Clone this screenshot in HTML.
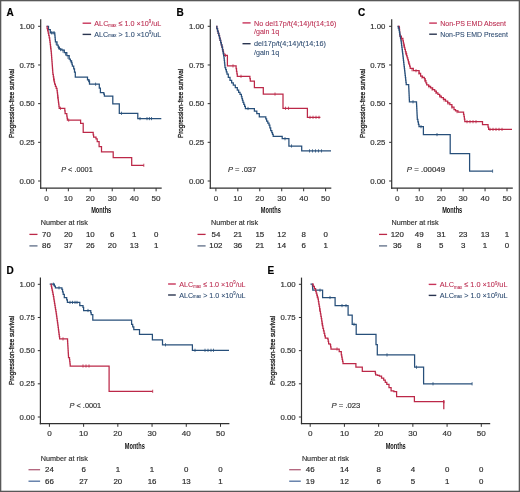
<!DOCTYPE html>
<html><head><meta charset="utf-8"><title>Kaplan-Meier curves</title>
<style>
html,body{margin:0;padding:0;background:#fff;}
svg{display:block;filter:blur(0.3px);}
text{font-family:"Liberation Sans", sans-serif;}
</style></head>
<body>
<svg width="520" height="492" viewBox="0 0 520 492">
<rect x="0" y="0" width="520" height="492" fill="#fff"/>
<text x="6.40" y="15.60" font-size="10" text-anchor="start" fill="#000" font-weight="bold" stroke="#000" stroke-width="0.18">A</text>
<line x1="40.70" y1="19.20" x2="40.70" y2="188.70" stroke="#303030" stroke-width="1.2"/>
<line x1="40.10" y1="188.10" x2="161.70" y2="188.10" stroke="#303030" stroke-width="1.2"/>
<line x1="38.10" y1="181.00" x2="40.70" y2="181.00" stroke="#303030" stroke-width="1.0"/>
<text x="34.70" y="183.65" font-size="7.8" text-anchor="end" fill="#333" font-weight="normal" stroke="#333" stroke-width="0.18">0.00</text>
<line x1="38.10" y1="142.32" x2="40.70" y2="142.32" stroke="#303030" stroke-width="1.0"/>
<text x="34.70" y="144.97" font-size="7.8" text-anchor="end" fill="#333" font-weight="normal" stroke="#333" stroke-width="0.18">0.25</text>
<line x1="38.10" y1="103.65" x2="40.70" y2="103.65" stroke="#303030" stroke-width="1.0"/>
<text x="34.70" y="106.30" font-size="7.8" text-anchor="end" fill="#333" font-weight="normal" stroke="#333" stroke-width="0.18">0.50</text>
<line x1="38.10" y1="64.98" x2="40.70" y2="64.98" stroke="#303030" stroke-width="1.0"/>
<text x="34.70" y="67.63" font-size="7.8" text-anchor="end" fill="#333" font-weight="normal" stroke="#333" stroke-width="0.18">0.75</text>
<line x1="38.10" y1="26.30" x2="40.70" y2="26.30" stroke="#303030" stroke-width="1.0"/>
<text x="34.70" y="28.95" font-size="7.8" text-anchor="end" fill="#333" font-weight="normal" stroke="#333" stroke-width="0.18">1.00</text>
<line x1="46.40" y1="188.10" x2="46.40" y2="191.30" stroke="#303030" stroke-width="1.0"/>
<text x="46.40" y="200.60" font-size="8.1" text-anchor="middle" fill="#333" font-weight="normal" stroke="#333" stroke-width="0.18">0</text>
<line x1="68.34" y1="188.10" x2="68.34" y2="191.30" stroke="#303030" stroke-width="1.0"/>
<text x="68.34" y="200.60" font-size="8.1" text-anchor="middle" fill="#333" font-weight="normal" stroke="#333" stroke-width="0.18">10</text>
<line x1="90.28" y1="188.10" x2="90.28" y2="191.30" stroke="#303030" stroke-width="1.0"/>
<text x="90.28" y="200.60" font-size="8.1" text-anchor="middle" fill="#333" font-weight="normal" stroke="#333" stroke-width="0.18">20</text>
<line x1="112.22" y1="188.10" x2="112.22" y2="191.30" stroke="#303030" stroke-width="1.0"/>
<text x="112.22" y="200.60" font-size="8.1" text-anchor="middle" fill="#333" font-weight="normal" stroke="#333" stroke-width="0.18">30</text>
<line x1="134.16" y1="188.10" x2="134.16" y2="191.30" stroke="#303030" stroke-width="1.0"/>
<text x="134.16" y="200.60" font-size="8.1" text-anchor="middle" fill="#333" font-weight="normal" stroke="#333" stroke-width="0.18">40</text>
<line x1="156.10" y1="188.10" x2="156.10" y2="191.30" stroke="#303030" stroke-width="1.0"/>
<text x="156.10" y="200.60" font-size="8.1" text-anchor="middle" fill="#333" font-weight="normal" stroke="#333" stroke-width="0.18">50</text>
<text x="101.20" y="213.10" font-size="9.0" text-anchor="middle" fill="#111" font-weight="bold" textLength="20.1" lengthAdjust="spacingAndGlyphs">Months</text>
<text transform="translate(13.50,103.40) rotate(-90)" x="0" y="0" font-size="7.9" text-anchor="middle" fill="#1a1a1a" stroke="#1a1a1a" stroke-width="0.3" textLength="69.0" lengthAdjust="spacingAndGlyphs">Progression-free survival</text>
<line x1="82.60" y1="23.20" x2="91.10" y2="23.20" stroke="#c8345a" stroke-width="1.4"/>
<line x1="82.60" y1="34.40" x2="91.10" y2="34.40" stroke="#2a3550" stroke-width="1.4"/>
<text x="94.30" y="25.70" font-size="7.7" text-anchor="start" fill="#bb2c50" font-weight="normal" stroke="#bb2c50" stroke-width="0.08" textLength="67.0" lengthAdjust="spacingAndGlyphs">ALC<tspan font-size="4.6" dy="1.6">max</tspan><tspan dy="-1.6"> ≤ 1.0 ×10</tspan><tspan font-size="4.6" dy="-2.4">9</tspan><tspan dy="2.4">/uL</tspan></text>
<text x="94.30" y="36.70" font-size="7.7" text-anchor="start" fill="#2c4a70" font-weight="normal" stroke="#2c4a70" stroke-width="0.08" textLength="67.0" lengthAdjust="spacingAndGlyphs">ALC<tspan font-size="4.6">max</tspan> &gt; 1.0 ×10<tspan font-size="4.6" dy="-2.4">9</tspan><tspan dy="2.4">/uL</tspan></text>
<polyline points="46.60,26.40 48.50,26.40 48.50,29.50 50.30,29.50 50.30,32.80 54.60,32.80 54.80,32.80 54.80,35.07 55.00,35.07 55.00,37.35 55.20,37.35 55.20,39.62 55.40,39.62 55.40,41.90 57.00,41.90 57.00,45.10 58.20,45.10 58.20,47.15 59.40,47.15 59.40,49.20 61.90,49.20 61.90,50.00 64.30,50.00 64.30,52.50 66.80,52.50 66.80,55.70 69.20,55.70 69.20,59.00 70.40,59.00 70.40,60.80 71.60,60.80 71.60,62.60 72.00,62.60 72.00,64.35 72.40,64.35 72.40,66.10 73.70,66.10 73.70,68.90 74.50,68.90 74.50,72.20 75.30,72.20 75.30,73.40 75.30,77.20 87.50,77.20 87.50,79.90 89.10,79.90 89.10,81.10 89.50,81.10 89.50,84.20 99.30,84.20 99.30,88.00 100.40,88.00 100.40,89.30 100.40,92.50 103.30,92.50 103.80,92.50 103.80,94.10 104.40,94.10 104.40,96.00 112.80,96.00 112.80,103.90 119.30,103.90 119.30,113.30 137.80,113.30 137.80,118.60 161.30,118.60" fill="none" stroke="#274f7a" stroke-width="1.25" stroke-linejoin="miter"/>
<polyline points="46.60,26.40 47.13,26.40 47.13,28.60 47.67,28.60 47.67,30.80 48.20,30.80 48.20,33.00 48.70,33.00 48.70,35.43 49.20,35.43 49.20,37.87 49.70,37.87 49.70,40.30 49.97,40.30 49.97,42.47 50.23,42.47 50.23,44.63 50.50,44.63 50.50,46.80 50.77,46.80 50.77,48.97 51.03,48.97 51.03,51.13 51.30,51.13 51.30,53.30 51.46,53.30 51.46,55.41 51.62,55.41 51.62,57.52 51.78,57.52 51.78,59.63 51.94,59.63 51.94,61.74 52.10,61.74 52.10,63.85 52.26,63.85 52.26,65.96 52.42,65.96 52.42,68.07 52.58,68.07 52.58,70.18 52.74,70.18 52.74,72.29 52.90,72.29 52.90,74.40 53.33,74.40 53.33,76.85 53.75,76.85 53.75,79.30 54.17,79.30 54.17,81.75 54.60,81.75 54.60,84.20 55.40,84.20 55.40,86.30 56.20,86.30 56.20,88.40 57.00,88.40 57.00,90.50 57.28,90.50 57.28,92.84 57.56,92.84 57.56,95.18 57.84,95.18 57.84,97.52 58.12,97.52 58.12,99.86 58.40,99.86 58.40,102.20 58.67,102.20 58.67,104.23 58.93,104.23 58.93,106.27 59.20,106.27 59.20,108.30 64.50,108.30 64.80,108.30 64.80,110.95 65.10,110.95 65.10,113.60 66.80,113.60 66.80,116.00 67.10,116.00 67.10,118.05 67.40,118.05 67.40,120.10 79.80,120.10 80.60,120.10 80.60,123.30 83.20,123.30 83.20,125.00 83.20,132.30 92.80,132.30 93.20,132.30 93.20,134.75 93.60,134.75 93.60,137.20 96.00,137.20 96.00,138.80 97.20,138.80 97.20,141.50 99.10,141.50 99.10,142.20 99.10,146.50 101.50,146.50 101.50,151.80 113.20,151.80 113.20,157.50 131.70,157.50 131.70,165.30 143.80,165.30" fill="none" stroke="#bc2848" stroke-width="1.25" stroke-linejoin="miter"/>
<line x1="51.50" y1="31.20" x2="51.50" y2="34.40" stroke="#274f7a" stroke-width="0.8"/>
<line x1="53.00" y1="31.20" x2="53.00" y2="34.40" stroke="#274f7a" stroke-width="0.8"/>
<line x1="54.20" y1="31.20" x2="54.20" y2="34.40" stroke="#274f7a" stroke-width="0.8"/>
<line x1="56.20" y1="41.90" x2="56.20" y2="45.10" stroke="#274f7a" stroke-width="0.8"/>
<line x1="58.50" y1="46.06" x2="58.50" y2="49.26" stroke="#274f7a" stroke-width="0.8"/>
<line x1="60.50" y1="47.95" x2="60.50" y2="51.15" stroke="#274f7a" stroke-width="0.8"/>
<line x1="63.00" y1="49.55" x2="63.00" y2="52.75" stroke="#274f7a" stroke-width="0.8"/>
<line x1="65.50" y1="52.44" x2="65.50" y2="55.64" stroke="#274f7a" stroke-width="0.8"/>
<line x1="68.00" y1="55.75" x2="68.00" y2="58.95" stroke="#274f7a" stroke-width="0.8"/>
<line x1="71.00" y1="60.10" x2="71.00" y2="63.30" stroke="#274f7a" stroke-width="0.8"/>
<line x1="95.60" y1="82.60" x2="95.60" y2="85.80" stroke="#274f7a" stroke-width="0.8"/>
<line x1="88.50" y1="79.05" x2="88.50" y2="82.25" stroke="#274f7a" stroke-width="0.8"/>
<line x1="121.50" y1="111.70" x2="121.50" y2="114.90" stroke="#274f7a" stroke-width="0.8"/>
<line x1="140.00" y1="117.00" x2="140.00" y2="120.20" stroke="#274f7a" stroke-width="0.8"/>
<line x1="147.00" y1="117.00" x2="147.00" y2="120.20" stroke="#274f7a" stroke-width="0.8"/>
<line x1="149.40" y1="117.00" x2="149.40" y2="120.20" stroke="#274f7a" stroke-width="0.8"/>
<line x1="151.50" y1="117.00" x2="151.50" y2="120.20" stroke="#274f7a" stroke-width="0.8"/>
<line x1="50.60" y1="46.01" x2="50.60" y2="49.21" stroke="#bc2848" stroke-width="0.8"/>
<line x1="53.80" y1="77.99" x2="53.80" y2="81.19" stroke="#bc2848" stroke-width="0.8"/>
<line x1="57.80" y1="95.59" x2="57.80" y2="98.79" stroke="#bc2848" stroke-width="0.8"/>
<line x1="60.50" y1="106.70" x2="60.50" y2="109.90" stroke="#bc2848" stroke-width="0.8"/>
<line x1="68.70" y1="118.50" x2="68.70" y2="121.70" stroke="#bc2848" stroke-width="0.8"/>
<line x1="143.80" y1="163.70" x2="143.80" y2="166.90" stroke="#bc2848" stroke-width="0.8"/>
<text x="61.20" y="172.20" font-size="7.9" fill="#333" stroke="#333" stroke-width="0.18" textLength="31.6" lengthAdjust="spacingAndGlyphs"><tspan font-style="italic">P</tspan> &lt; .0001</text>
<text x="40.80" y="224.90" font-size="7.7" text-anchor="start" fill="#333" font-weight="normal" stroke="#333" stroke-width="0.18" textLength="47.0" lengthAdjust="spacingAndGlyphs">Number at risk</text>
<line x1="29.40" y1="234.40" x2="37.50" y2="234.40" stroke="#bc2848" stroke-width="1.3"/>
<text x="46.40" y="236.90" font-size="7.9" text-anchor="middle" fill="#2a2a2a" font-weight="normal" stroke="#2a2a2a" stroke-width="0.18">70</text>
<text x="68.34" y="236.90" font-size="7.9" text-anchor="middle" fill="#2a2a2a" font-weight="normal" stroke="#2a2a2a" stroke-width="0.18">20</text>
<text x="90.28" y="236.90" font-size="7.9" text-anchor="middle" fill="#2a2a2a" font-weight="normal" stroke="#2a2a2a" stroke-width="0.18">10</text>
<text x="112.22" y="236.90" font-size="7.9" text-anchor="middle" fill="#2a2a2a" font-weight="normal" stroke="#2a2a2a" stroke-width="0.18">6</text>
<text x="134.16" y="236.90" font-size="7.9" text-anchor="middle" fill="#2a2a2a" font-weight="normal" stroke="#2a2a2a" stroke-width="0.18">1</text>
<text x="156.10" y="236.90" font-size="7.9" text-anchor="middle" fill="#2a2a2a" font-weight="normal" stroke="#2a2a2a" stroke-width="0.18">0</text>
<line x1="29.40" y1="245.90" x2="37.50" y2="245.90" stroke="#5d6c86" stroke-width="1.3"/>
<text x="46.40" y="248.20" font-size="7.9" text-anchor="middle" fill="#2a2a2a" font-weight="normal" stroke="#2a2a2a" stroke-width="0.18">86</text>
<text x="68.34" y="248.20" font-size="7.9" text-anchor="middle" fill="#2a2a2a" font-weight="normal" stroke="#2a2a2a" stroke-width="0.18">37</text>
<text x="90.28" y="248.20" font-size="7.9" text-anchor="middle" fill="#2a2a2a" font-weight="normal" stroke="#2a2a2a" stroke-width="0.18">26</text>
<text x="112.22" y="248.20" font-size="7.9" text-anchor="middle" fill="#2a2a2a" font-weight="normal" stroke="#2a2a2a" stroke-width="0.18">20</text>
<text x="134.16" y="248.20" font-size="7.9" text-anchor="middle" fill="#2a2a2a" font-weight="normal" stroke="#2a2a2a" stroke-width="0.18">13</text>
<text x="156.10" y="248.20" font-size="7.9" text-anchor="middle" fill="#2a2a2a" font-weight="normal" stroke="#2a2a2a" stroke-width="0.18">1</text>
<text x="176.40" y="15.60" font-size="10" text-anchor="start" fill="#000" font-weight="bold" stroke="#000" stroke-width="0.18">B</text>
<line x1="210.30" y1="19.20" x2="210.30" y2="188.70" stroke="#303030" stroke-width="1.2"/>
<line x1="209.70" y1="188.10" x2="331.30" y2="188.10" stroke="#303030" stroke-width="1.2"/>
<line x1="207.70" y1="181.00" x2="210.30" y2="181.00" stroke="#303030" stroke-width="1.0"/>
<text x="204.20" y="183.65" font-size="7.8" text-anchor="end" fill="#333" font-weight="normal" stroke="#333" stroke-width="0.18">0.00</text>
<line x1="207.70" y1="142.32" x2="210.30" y2="142.32" stroke="#303030" stroke-width="1.0"/>
<text x="204.20" y="144.97" font-size="7.8" text-anchor="end" fill="#333" font-weight="normal" stroke="#333" stroke-width="0.18">0.25</text>
<line x1="207.70" y1="103.65" x2="210.30" y2="103.65" stroke="#303030" stroke-width="1.0"/>
<text x="204.20" y="106.30" font-size="7.8" text-anchor="end" fill="#333" font-weight="normal" stroke="#333" stroke-width="0.18">0.50</text>
<line x1="207.70" y1="64.98" x2="210.30" y2="64.98" stroke="#303030" stroke-width="1.0"/>
<text x="204.20" y="67.63" font-size="7.8" text-anchor="end" fill="#333" font-weight="normal" stroke="#333" stroke-width="0.18">0.75</text>
<line x1="207.70" y1="26.30" x2="210.30" y2="26.30" stroke="#303030" stroke-width="1.0"/>
<text x="204.20" y="28.95" font-size="7.8" text-anchor="end" fill="#333" font-weight="normal" stroke="#333" stroke-width="0.18">1.00</text>
<line x1="215.90" y1="188.10" x2="215.90" y2="191.30" stroke="#303030" stroke-width="1.0"/>
<text x="215.90" y="200.60" font-size="8.1" text-anchor="middle" fill="#333" font-weight="normal" stroke="#333" stroke-width="0.18">0</text>
<line x1="237.84" y1="188.10" x2="237.84" y2="191.30" stroke="#303030" stroke-width="1.0"/>
<text x="237.84" y="200.60" font-size="8.1" text-anchor="middle" fill="#333" font-weight="normal" stroke="#333" stroke-width="0.18">10</text>
<line x1="259.78" y1="188.10" x2="259.78" y2="191.30" stroke="#303030" stroke-width="1.0"/>
<text x="259.78" y="200.60" font-size="8.1" text-anchor="middle" fill="#333" font-weight="normal" stroke="#333" stroke-width="0.18">20</text>
<line x1="281.72" y1="188.10" x2="281.72" y2="191.30" stroke="#303030" stroke-width="1.0"/>
<text x="281.72" y="200.60" font-size="8.1" text-anchor="middle" fill="#333" font-weight="normal" stroke="#333" stroke-width="0.18">30</text>
<line x1="303.66" y1="188.10" x2="303.66" y2="191.30" stroke="#303030" stroke-width="1.0"/>
<text x="303.66" y="200.60" font-size="8.1" text-anchor="middle" fill="#333" font-weight="normal" stroke="#333" stroke-width="0.18">40</text>
<line x1="325.60" y1="188.10" x2="325.60" y2="191.30" stroke="#303030" stroke-width="1.0"/>
<text x="325.60" y="200.60" font-size="8.1" text-anchor="middle" fill="#333" font-weight="normal" stroke="#333" stroke-width="0.18">50</text>
<text x="270.80" y="213.10" font-size="9.0" text-anchor="middle" fill="#111" font-weight="bold" textLength="20.1" lengthAdjust="spacingAndGlyphs">Months</text>
<text transform="translate(183.30,103.40) rotate(-90)" x="0" y="0" font-size="7.9" text-anchor="middle" fill="#1a1a1a" stroke="#1a1a1a" stroke-width="0.3" textLength="69.0" lengthAdjust="spacingAndGlyphs">Progression-free survival</text>
<line x1="242.50" y1="22.90" x2="250.60" y2="22.90" stroke="#c8345a" stroke-width="1.4"/>
<line x1="242.50" y1="43.70" x2="250.60" y2="43.70" stroke="#2a3550" stroke-width="1.4"/>
<text x="254.00" y="25.60" font-size="7.7" text-anchor="start" fill="#bb2c50" font-weight="normal" stroke="#bb2c50" stroke-width="0.08" textLength="82.3" lengthAdjust="spacingAndGlyphs">No del17p/t(4;14)/t(14;16)</text>
<text x="254.00" y="33.90" font-size="7.7" text-anchor="start" fill="#bb2c50" font-weight="normal" stroke="#bb2c50" stroke-width="0.08" textLength="25.2" lengthAdjust="spacingAndGlyphs">/gain 1q</text>
<text x="254.00" y="46.40" font-size="7.7" text-anchor="start" fill="#2c4a70" font-weight="normal" stroke="#2c4a70" stroke-width="0.08" textLength="71.9" lengthAdjust="spacingAndGlyphs">del17p/t(4;14)/t(14;16)</text>
<text x="254.00" y="54.50" font-size="7.7" text-anchor="start" fill="#2c4a70" font-weight="normal" stroke="#2c4a70" stroke-width="0.08" textLength="25.2" lengthAdjust="spacingAndGlyphs">/gain 1q</text>
<polyline points="216.20,26.40 216.86,26.40 216.86,28.72 217.52,28.72 217.52,31.04 218.18,31.04 218.18,33.36 218.84,33.36 218.84,35.68 219.50,35.68 219.50,38.00 220.10,38.00 220.10,40.30 220.70,40.30 220.70,42.60 221.30,42.60 221.30,44.90 221.90,44.90 221.90,47.20 222.50,47.20 222.50,49.50 223.00,49.50 223.00,51.43 223.50,51.43 223.50,53.37 224.00,53.37 224.00,55.30 227.40,55.30 227.40,65.90 235.70,65.90 236.10,65.90 236.10,68.65 236.50,68.65 236.50,71.40 236.90,71.40 236.90,73.85 237.30,73.85 237.30,76.30 249.50,76.30 249.90,76.30 249.90,78.70 250.30,78.70 250.30,81.10 254.40,81.10 254.40,87.60 263.30,87.60 263.30,94.10 283.00,94.10 283.00,108.30 307.40,108.30 307.40,117.30 320.40,117.30" fill="none" stroke="#bc2848" stroke-width="1.25" stroke-linejoin="miter"/>
<polyline points="216.20,26.40 216.86,26.40 216.86,28.72 217.52,28.72 217.52,31.04 218.18,31.04 218.18,33.36 218.84,33.36 218.84,35.68 219.50,35.68 219.50,38.00 220.10,38.00 220.10,40.30 220.70,40.30 220.70,42.60 221.30,42.60 221.30,44.90 221.90,44.90 221.90,47.20 222.50,47.20 222.50,49.50 222.88,49.50 222.88,51.62 223.25,51.62 223.25,53.75 223.62,53.75 223.62,55.88 224.00,55.88 224.00,58.00 224.25,58.00 224.25,60.38 224.50,60.38 224.50,62.75 224.75,62.75 224.75,65.12 225.00,65.12 225.00,67.50 225.67,67.50 225.67,69.67 226.33,69.67 226.33,71.83 227.00,71.83 227.00,74.00 228.30,74.00 228.30,77.30 230.00,77.30 230.00,80.30 231.65,80.30 231.65,82.75 233.30,82.75 233.30,85.20 235.30,85.20 235.30,87.65 237.30,87.65 237.30,90.10 238.67,90.10 238.67,92.27 240.03,92.27 240.03,94.43 241.40,94.43 241.40,96.60 241.93,96.60 241.93,98.50 242.47,98.50 242.47,100.40 243.00,100.40 243.00,102.30 243.80,102.30 243.80,104.37 244.60,104.37 244.60,106.43 245.40,106.43 245.40,108.50 252.80,108.50 254.40,108.50 254.40,111.20 256.80,111.20 256.80,113.70 259.30,113.70 259.30,116.90 265.00,116.90 265.80,116.90 265.80,118.95 266.60,118.95 266.60,121.00 267.80,121.00 267.80,123.00 269.00,123.00 269.00,125.00 269.85,125.00 269.85,127.75 270.70,127.75 270.70,130.50 271.80,130.50 271.80,132.50 272.50,132.50 272.50,134.40 273.20,134.40 273.20,136.30 282.20,136.30 282.20,138.70 288.90,138.70 288.90,146.00 301.70,146.00 301.70,150.90 331.00,150.90" fill="none" stroke="#274f7a" stroke-width="1.25" stroke-linejoin="miter"/>
<line x1="225.50" y1="53.70" x2="225.50" y2="56.90" stroke="#bc2848" stroke-width="0.8"/>
<line x1="233.00" y1="64.30" x2="233.00" y2="67.50" stroke="#bc2848" stroke-width="0.8"/>
<line x1="241.00" y1="74.70" x2="241.00" y2="77.90" stroke="#bc2848" stroke-width="0.8"/>
<line x1="275.00" y1="92.50" x2="275.00" y2="95.70" stroke="#bc2848" stroke-width="0.8"/>
<line x1="285.50" y1="106.70" x2="285.50" y2="109.90" stroke="#bc2848" stroke-width="0.8"/>
<line x1="288.50" y1="106.70" x2="288.50" y2="109.90" stroke="#bc2848" stroke-width="0.8"/>
<line x1="310.00" y1="115.70" x2="310.00" y2="118.90" stroke="#bc2848" stroke-width="0.8"/>
<line x1="313.00" y1="115.70" x2="313.00" y2="118.90" stroke="#bc2848" stroke-width="0.8"/>
<line x1="316.00" y1="115.70" x2="316.00" y2="118.90" stroke="#bc2848" stroke-width="0.8"/>
<line x1="319.00" y1="115.70" x2="319.00" y2="118.90" stroke="#bc2848" stroke-width="0.8"/>
<line x1="248.00" y1="106.90" x2="248.00" y2="110.10" stroke="#274f7a" stroke-width="0.8"/>
<line x1="285.00" y1="137.10" x2="285.00" y2="140.30" stroke="#274f7a" stroke-width="0.8"/>
<line x1="291.50" y1="144.40" x2="291.50" y2="147.60" stroke="#274f7a" stroke-width="0.8"/>
<line x1="309.50" y1="149.30" x2="309.50" y2="152.50" stroke="#274f7a" stroke-width="0.8"/>
<line x1="312.50" y1="149.30" x2="312.50" y2="152.50" stroke="#274f7a" stroke-width="0.8"/>
<line x1="315.50" y1="149.30" x2="315.50" y2="152.50" stroke="#274f7a" stroke-width="0.8"/>
<line x1="318.50" y1="149.30" x2="318.50" y2="152.50" stroke="#274f7a" stroke-width="0.8"/>
<line x1="321.50" y1="149.30" x2="321.50" y2="152.50" stroke="#274f7a" stroke-width="0.8"/>
<text x="227.90" y="172.20" font-size="7.9" fill="#333" stroke="#333" stroke-width="0.18" textLength="28.4" lengthAdjust="spacingAndGlyphs"><tspan font-style="italic">P</tspan> = .037</text>
<text x="211.10" y="224.90" font-size="7.7" text-anchor="start" fill="#333" font-weight="normal" stroke="#333" stroke-width="0.18" textLength="47.0" lengthAdjust="spacingAndGlyphs">Number at risk</text>
<line x1="197.50" y1="234.40" x2="205.60" y2="234.40" stroke="#bc2848" stroke-width="1.3"/>
<text x="215.90" y="236.90" font-size="7.9" text-anchor="middle" fill="#2a2a2a" font-weight="normal" stroke="#2a2a2a" stroke-width="0.18">54</text>
<text x="237.84" y="236.90" font-size="7.9" text-anchor="middle" fill="#2a2a2a" font-weight="normal" stroke="#2a2a2a" stroke-width="0.18">21</text>
<text x="259.78" y="236.90" font-size="7.9" text-anchor="middle" fill="#2a2a2a" font-weight="normal" stroke="#2a2a2a" stroke-width="0.18">15</text>
<text x="281.72" y="236.90" font-size="7.9" text-anchor="middle" fill="#2a2a2a" font-weight="normal" stroke="#2a2a2a" stroke-width="0.18">12</text>
<text x="303.66" y="236.90" font-size="7.9" text-anchor="middle" fill="#2a2a2a" font-weight="normal" stroke="#2a2a2a" stroke-width="0.18">8</text>
<text x="325.60" y="236.90" font-size="7.9" text-anchor="middle" fill="#2a2a2a" font-weight="normal" stroke="#2a2a2a" stroke-width="0.18">0</text>
<line x1="197.50" y1="245.90" x2="205.60" y2="245.90" stroke="#5d6c86" stroke-width="1.3"/>
<text x="215.90" y="248.20" font-size="7.9" text-anchor="middle" fill="#2a2a2a" font-weight="normal" stroke="#2a2a2a" stroke-width="0.18">102</text>
<text x="237.84" y="248.20" font-size="7.9" text-anchor="middle" fill="#2a2a2a" font-weight="normal" stroke="#2a2a2a" stroke-width="0.18">36</text>
<text x="259.78" y="248.20" font-size="7.9" text-anchor="middle" fill="#2a2a2a" font-weight="normal" stroke="#2a2a2a" stroke-width="0.18">21</text>
<text x="281.72" y="248.20" font-size="7.9" text-anchor="middle" fill="#2a2a2a" font-weight="normal" stroke="#2a2a2a" stroke-width="0.18">14</text>
<text x="303.66" y="248.20" font-size="7.9" text-anchor="middle" fill="#2a2a2a" font-weight="normal" stroke="#2a2a2a" stroke-width="0.18">6</text>
<text x="325.60" y="248.20" font-size="7.9" text-anchor="middle" fill="#2a2a2a" font-weight="normal" stroke="#2a2a2a" stroke-width="0.18">1</text>
<text x="358.00" y="15.60" font-size="10" text-anchor="start" fill="#000" font-weight="bold" stroke="#000" stroke-width="0.18">C</text>
<line x1="391.70" y1="19.20" x2="391.70" y2="188.70" stroke="#303030" stroke-width="1.2"/>
<line x1="391.10" y1="188.10" x2="512.80" y2="188.10" stroke="#303030" stroke-width="1.2"/>
<line x1="389.10" y1="181.00" x2="391.70" y2="181.00" stroke="#303030" stroke-width="1.0"/>
<text x="385.40" y="183.65" font-size="7.8" text-anchor="end" fill="#333" font-weight="normal" stroke="#333" stroke-width="0.18">0.00</text>
<line x1="389.10" y1="142.32" x2="391.70" y2="142.32" stroke="#303030" stroke-width="1.0"/>
<text x="385.40" y="144.97" font-size="7.8" text-anchor="end" fill="#333" font-weight="normal" stroke="#333" stroke-width="0.18">0.25</text>
<line x1="389.10" y1="103.65" x2="391.70" y2="103.65" stroke="#303030" stroke-width="1.0"/>
<text x="385.40" y="106.30" font-size="7.8" text-anchor="end" fill="#333" font-weight="normal" stroke="#333" stroke-width="0.18">0.50</text>
<line x1="389.10" y1="64.98" x2="391.70" y2="64.98" stroke="#303030" stroke-width="1.0"/>
<text x="385.40" y="67.63" font-size="7.8" text-anchor="end" fill="#333" font-weight="normal" stroke="#333" stroke-width="0.18">0.75</text>
<line x1="389.10" y1="26.30" x2="391.70" y2="26.30" stroke="#303030" stroke-width="1.0"/>
<text x="385.40" y="28.95" font-size="7.8" text-anchor="end" fill="#333" font-weight="normal" stroke="#333" stroke-width="0.18">1.00</text>
<line x1="397.30" y1="188.10" x2="397.30" y2="191.30" stroke="#303030" stroke-width="1.0"/>
<text x="397.30" y="200.60" font-size="8.1" text-anchor="middle" fill="#333" font-weight="normal" stroke="#333" stroke-width="0.18">0</text>
<line x1="419.24" y1="188.10" x2="419.24" y2="191.30" stroke="#303030" stroke-width="1.0"/>
<text x="419.24" y="200.60" font-size="8.1" text-anchor="middle" fill="#333" font-weight="normal" stroke="#333" stroke-width="0.18">10</text>
<line x1="441.18" y1="188.10" x2="441.18" y2="191.30" stroke="#303030" stroke-width="1.0"/>
<text x="441.18" y="200.60" font-size="8.1" text-anchor="middle" fill="#333" font-weight="normal" stroke="#333" stroke-width="0.18">20</text>
<line x1="463.12" y1="188.10" x2="463.12" y2="191.30" stroke="#303030" stroke-width="1.0"/>
<text x="463.12" y="200.60" font-size="8.1" text-anchor="middle" fill="#333" font-weight="normal" stroke="#333" stroke-width="0.18">30</text>
<line x1="485.06" y1="188.10" x2="485.06" y2="191.30" stroke="#303030" stroke-width="1.0"/>
<text x="485.06" y="200.60" font-size="8.1" text-anchor="middle" fill="#333" font-weight="normal" stroke="#333" stroke-width="0.18">40</text>
<line x1="507.00" y1="188.10" x2="507.00" y2="191.30" stroke="#303030" stroke-width="1.0"/>
<text x="507.00" y="200.60" font-size="8.1" text-anchor="middle" fill="#333" font-weight="normal" stroke="#333" stroke-width="0.18">50</text>
<text x="452.20" y="213.10" font-size="9.0" text-anchor="middle" fill="#111" font-weight="bold" textLength="20.1" lengthAdjust="spacingAndGlyphs">Months</text>
<text transform="translate(364.70,103.40) rotate(-90)" x="0" y="0" font-size="7.9" text-anchor="middle" fill="#1a1a1a" stroke="#1a1a1a" stroke-width="0.3" textLength="69.0" lengthAdjust="spacingAndGlyphs">Progression-free survival</text>
<line x1="429.20" y1="23.10" x2="436.90" y2="23.10" stroke="#c8345a" stroke-width="1.4"/>
<line x1="429.20" y1="34.20" x2="436.90" y2="34.20" stroke="#2a3550" stroke-width="1.4"/>
<text x="440.20" y="25.80" font-size="7.7" text-anchor="start" fill="#bb2c50" font-weight="normal" stroke="#bb2c50" stroke-width="0.08" textLength="65.8" lengthAdjust="spacingAndGlyphs">Non-PS EMD Absent</text>
<text x="440.20" y="36.90" font-size="7.7" text-anchor="start" fill="#2c4a70" font-weight="normal" stroke="#2c4a70" stroke-width="0.08" textLength="67.7" lengthAdjust="spacingAndGlyphs">Non-PS EMD Present</text>
<polyline points="397.60,26.40 399.30,26.40 399.30,27.50 399.45,27.50 399.45,29.62 399.60,29.62 399.60,31.75 399.75,31.75 399.75,33.88 399.90,33.88 399.90,36.00 401.40,36.00 401.40,38.45 402.90,38.45 402.90,40.90 403.38,40.90 403.38,43.02 403.85,43.02 403.85,45.15 404.32,45.15 404.32,47.27 404.80,47.27 404.80,49.40 405.40,49.40 405.40,51.52 406.00,51.52 406.00,53.65 406.60,53.65 406.60,55.77 407.20,55.77 407.20,57.90 407.80,57.90 407.80,59.93 408.40,59.93 408.40,61.97 409.00,61.97 409.00,64.00 409.60,64.00 409.60,66.15 410.20,66.15 410.20,68.30 413.30,68.30 413.30,70.70 417.60,70.70 419.10,70.70 419.10,73.45 420.60,73.45 420.60,76.20 422.45,76.20 422.45,77.45 424.30,77.45 424.30,78.70 425.10,78.70 425.10,80.73 425.90,80.73 425.90,82.77 426.70,82.77 426.70,84.80 428.65,84.80 428.65,86.35 430.60,86.35 430.60,87.90 432.65,87.90 432.65,89.50 434.70,89.50 434.70,91.10 436.30,91.10 436.30,92.75 437.90,92.75 437.90,94.40 439.60,94.40 439.60,96.00 441.30,96.00 441.30,97.60 443.40,97.60 443.40,99.40 445.50,99.40 445.50,101.20 447.65,101.20 447.65,102.95 449.80,102.95 449.80,104.70 451.90,104.70 451.90,107.20 454.00,107.20 454.00,109.70 455.50,109.70 455.50,110.80 458.00,110.80 458.00,112.10 463.10,112.10 463.55,112.10 463.55,114.30 464.00,114.30 464.00,116.50 464.40,116.50 464.40,119.10 464.80,119.10 464.80,121.70 482.50,121.70 482.50,124.70 487.50,124.70 488.05,124.70 488.05,127.05 488.60,127.05 488.60,129.40 512.00,129.40" fill="none" stroke="#bc2848" stroke-width="1.25" stroke-linejoin="miter"/>
<polyline points="397.60,26.40 398.30,26.40 398.30,28.20 399.00,28.20 399.00,30.00 399.38,30.00 399.38,32.18 399.77,32.18 399.77,34.37 400.15,34.37 400.15,36.55 400.53,36.55 400.53,38.73 400.92,38.73 400.92,40.92 401.30,40.92 401.30,43.10 401.57,43.10 401.57,45.27 401.83,45.27 401.83,47.43 402.10,47.43 402.10,49.60 402.37,49.60 402.37,51.77 402.63,51.77 402.63,53.93 402.90,53.93 402.90,56.10 403.14,56.10 403.14,58.20 403.39,58.20 403.39,60.30 403.63,60.30 403.63,62.40 403.87,62.40 403.87,64.50 404.11,64.50 404.11,66.60 404.36,66.60 404.36,68.70 404.60,68.70 404.60,70.80 404.87,70.80 404.87,73.10 405.13,73.10 405.13,75.40 405.40,75.40 405.40,77.70 405.67,77.70 405.67,80.00 405.93,80.00 405.93,82.30 406.20,82.30 406.20,84.60 408.60,84.60 408.70,84.60 408.70,86.75 408.80,86.75 408.80,88.90 408.90,88.90 408.90,91.05 409.00,91.05 409.00,93.20 409.10,93.20 409.10,95.35 409.20,95.35 409.20,97.50 409.30,97.50 409.30,99.65 409.40,99.65 409.40,101.80 416.40,101.80 416.51,101.80 416.51,104.00 416.62,104.00 416.62,106.20 416.74,106.20 416.74,108.40 416.85,108.40 416.85,110.60 416.96,110.60 416.96,112.80 417.07,112.80 417.07,115.00 417.19,115.00 417.19,117.20 417.30,117.20 417.30,119.40 417.87,119.40 417.87,121.83 418.43,121.83 418.43,124.27 419.00,124.27 419.00,126.70 423.40,126.70 423.40,134.60 450.20,134.60 450.20,153.50 469.60,153.50 469.60,171.10 492.60,171.10" fill="none" stroke="#274f7a" stroke-width="1.25" stroke-linejoin="miter"/>
<line x1="401.50" y1="37.01" x2="401.50" y2="40.21" stroke="#bc2848" stroke-width="0.8"/>
<line x1="404.00" y1="44.22" x2="404.00" y2="47.42" stroke="#bc2848" stroke-width="0.8"/>
<line x1="406.00" y1="52.05" x2="406.00" y2="55.25" stroke="#bc2848" stroke-width="0.8"/>
<line x1="408.50" y1="60.71" x2="408.50" y2="63.91" stroke="#bc2848" stroke-width="0.8"/>
<line x1="412.00" y1="68.09" x2="412.00" y2="71.29" stroke="#bc2848" stroke-width="0.8"/>
<line x1="416.00" y1="69.10" x2="416.00" y2="72.30" stroke="#bc2848" stroke-width="0.8"/>
<line x1="419.00" y1="71.67" x2="419.00" y2="74.87" stroke="#bc2848" stroke-width="0.8"/>
<line x1="422.00" y1="75.55" x2="422.00" y2="78.75" stroke="#bc2848" stroke-width="0.8"/>
<line x1="425.00" y1="78.88" x2="425.00" y2="82.08" stroke="#bc2848" stroke-width="0.8"/>
<line x1="429.00" y1="85.03" x2="429.00" y2="88.23" stroke="#bc2848" stroke-width="0.8"/>
<line x1="432.00" y1="87.39" x2="432.00" y2="90.59" stroke="#bc2848" stroke-width="0.8"/>
<line x1="436.00" y1="90.84" x2="436.00" y2="94.04" stroke="#bc2848" stroke-width="0.8"/>
<line x1="440.00" y1="94.78" x2="440.00" y2="97.98" stroke="#bc2848" stroke-width="0.8"/>
<line x1="444.00" y1="98.31" x2="444.00" y2="101.51" stroke="#bc2848" stroke-width="0.8"/>
<line x1="448.00" y1="101.63" x2="448.00" y2="104.83" stroke="#bc2848" stroke-width="0.8"/>
<line x1="452.00" y1="105.72" x2="452.00" y2="108.92" stroke="#bc2848" stroke-width="0.8"/>
<line x1="457.00" y1="109.98" x2="457.00" y2="113.18" stroke="#bc2848" stroke-width="0.8"/>
<line x1="467.00" y1="120.10" x2="467.00" y2="123.30" stroke="#bc2848" stroke-width="0.8"/>
<line x1="470.00" y1="120.10" x2="470.00" y2="123.30" stroke="#bc2848" stroke-width="0.8"/>
<line x1="473.00" y1="120.10" x2="473.00" y2="123.30" stroke="#bc2848" stroke-width="0.8"/>
<line x1="476.00" y1="120.10" x2="476.00" y2="123.30" stroke="#bc2848" stroke-width="0.8"/>
<line x1="490.00" y1="127.80" x2="490.00" y2="131.00" stroke="#bc2848" stroke-width="0.8"/>
<line x1="493.00" y1="127.80" x2="493.00" y2="131.00" stroke="#bc2848" stroke-width="0.8"/>
<line x1="496.00" y1="127.80" x2="496.00" y2="131.00" stroke="#bc2848" stroke-width="0.8"/>
<line x1="499.00" y1="127.80" x2="499.00" y2="131.00" stroke="#bc2848" stroke-width="0.8"/>
<line x1="502.00" y1="127.80" x2="502.00" y2="131.00" stroke="#bc2848" stroke-width="0.8"/>
<line x1="413.00" y1="100.20" x2="413.00" y2="103.40" stroke="#274f7a" stroke-width="0.8"/>
<line x1="421.00" y1="125.10" x2="421.00" y2="128.30" stroke="#274f7a" stroke-width="0.8"/>
<line x1="437.00" y1="133.00" x2="437.00" y2="136.20" stroke="#274f7a" stroke-width="0.8"/>
<line x1="492.60" y1="169.50" x2="492.60" y2="172.70" stroke="#274f7a" stroke-width="0.8"/>
<text x="406.80" y="172.30" font-size="7.9" fill="#333" stroke="#333" stroke-width="0.18" textLength="38.3" lengthAdjust="spacingAndGlyphs"><tspan font-style="italic">P</tspan> = .00049</text>
<text x="391.50" y="224.90" font-size="7.7" text-anchor="start" fill="#333" font-weight="normal" stroke="#333" stroke-width="0.18" textLength="47.0" lengthAdjust="spacingAndGlyphs">Number at risk</text>
<line x1="379.00" y1="234.40" x2="387.10" y2="234.40" stroke="#bc2848" stroke-width="1.3"/>
<text x="397.30" y="236.90" font-size="7.9" text-anchor="middle" fill="#2a2a2a" font-weight="normal" stroke="#2a2a2a" stroke-width="0.18">120</text>
<text x="419.24" y="236.90" font-size="7.9" text-anchor="middle" fill="#2a2a2a" font-weight="normal" stroke="#2a2a2a" stroke-width="0.18">49</text>
<text x="441.18" y="236.90" font-size="7.9" text-anchor="middle" fill="#2a2a2a" font-weight="normal" stroke="#2a2a2a" stroke-width="0.18">31</text>
<text x="463.12" y="236.90" font-size="7.9" text-anchor="middle" fill="#2a2a2a" font-weight="normal" stroke="#2a2a2a" stroke-width="0.18">23</text>
<text x="485.06" y="236.90" font-size="7.9" text-anchor="middle" fill="#2a2a2a" font-weight="normal" stroke="#2a2a2a" stroke-width="0.18">13</text>
<text x="507.00" y="236.90" font-size="7.9" text-anchor="middle" fill="#2a2a2a" font-weight="normal" stroke="#2a2a2a" stroke-width="0.18">1</text>
<line x1="379.00" y1="245.90" x2="387.10" y2="245.90" stroke="#5d6c86" stroke-width="1.3"/>
<text x="397.30" y="248.20" font-size="7.9" text-anchor="middle" fill="#2a2a2a" font-weight="normal" stroke="#2a2a2a" stroke-width="0.18">36</text>
<text x="419.24" y="248.20" font-size="7.9" text-anchor="middle" fill="#2a2a2a" font-weight="normal" stroke="#2a2a2a" stroke-width="0.18">8</text>
<text x="441.18" y="248.20" font-size="7.9" text-anchor="middle" fill="#2a2a2a" font-weight="normal" stroke="#2a2a2a" stroke-width="0.18">5</text>
<text x="463.12" y="248.20" font-size="7.9" text-anchor="middle" fill="#2a2a2a" font-weight="normal" stroke="#2a2a2a" stroke-width="0.18">3</text>
<text x="485.06" y="248.20" font-size="7.9" text-anchor="middle" fill="#2a2a2a" font-weight="normal" stroke="#2a2a2a" stroke-width="0.18">1</text>
<text x="507.00" y="248.20" font-size="7.9" text-anchor="middle" fill="#2a2a2a" font-weight="normal" stroke="#2a2a2a" stroke-width="0.18">0</text>
<text x="6.40" y="274.20" font-size="10" text-anchor="start" fill="#000" font-weight="bold" stroke="#000" stroke-width="0.18">D</text>
<line x1="40.40" y1="277.60" x2="40.40" y2="424.20" stroke="#303030" stroke-width="1.2"/>
<line x1="39.80" y1="423.60" x2="229.40" y2="423.60" stroke="#303030" stroke-width="1.2"/>
<line x1="37.80" y1="417.00" x2="40.40" y2="417.00" stroke="#303030" stroke-width="1.0"/>
<text x="34.80" y="419.65" font-size="7.8" text-anchor="end" fill="#333" font-weight="normal" stroke="#333" stroke-width="0.18">0.00</text>
<line x1="37.80" y1="383.82" x2="40.40" y2="383.82" stroke="#303030" stroke-width="1.0"/>
<text x="34.80" y="386.47" font-size="7.8" text-anchor="end" fill="#333" font-weight="normal" stroke="#333" stroke-width="0.18">0.25</text>
<line x1="37.80" y1="350.65" x2="40.40" y2="350.65" stroke="#303030" stroke-width="1.0"/>
<text x="34.80" y="353.30" font-size="7.8" text-anchor="end" fill="#333" font-weight="normal" stroke="#333" stroke-width="0.18">0.50</text>
<line x1="37.80" y1="317.48" x2="40.40" y2="317.48" stroke="#303030" stroke-width="1.0"/>
<text x="34.80" y="320.12" font-size="7.8" text-anchor="end" fill="#333" font-weight="normal" stroke="#333" stroke-width="0.18">0.75</text>
<line x1="37.80" y1="284.30" x2="40.40" y2="284.30" stroke="#303030" stroke-width="1.0"/>
<text x="34.80" y="286.95" font-size="7.8" text-anchor="end" fill="#333" font-weight="normal" stroke="#333" stroke-width="0.18">1.00</text>
<line x1="49.40" y1="423.60" x2="49.40" y2="426.80" stroke="#303030" stroke-width="1.0"/>
<text x="49.40" y="436.40" font-size="8.1" text-anchor="middle" fill="#333" font-weight="normal" stroke="#333" stroke-width="0.18">0</text>
<line x1="83.62" y1="423.60" x2="83.62" y2="426.80" stroke="#303030" stroke-width="1.0"/>
<text x="83.62" y="436.40" font-size="8.1" text-anchor="middle" fill="#333" font-weight="normal" stroke="#333" stroke-width="0.18">10</text>
<line x1="117.84" y1="423.60" x2="117.84" y2="426.80" stroke="#303030" stroke-width="1.0"/>
<text x="117.84" y="436.40" font-size="8.1" text-anchor="middle" fill="#333" font-weight="normal" stroke="#333" stroke-width="0.18">20</text>
<line x1="152.06" y1="423.60" x2="152.06" y2="426.80" stroke="#303030" stroke-width="1.0"/>
<text x="152.06" y="436.40" font-size="8.1" text-anchor="middle" fill="#333" font-weight="normal" stroke="#333" stroke-width="0.18">30</text>
<line x1="186.28" y1="423.60" x2="186.28" y2="426.80" stroke="#303030" stroke-width="1.0"/>
<text x="186.28" y="436.40" font-size="8.1" text-anchor="middle" fill="#333" font-weight="normal" stroke="#333" stroke-width="0.18">40</text>
<line x1="220.50" y1="423.60" x2="220.50" y2="426.80" stroke="#303030" stroke-width="1.0"/>
<text x="220.50" y="436.40" font-size="8.1" text-anchor="middle" fill="#333" font-weight="normal" stroke="#333" stroke-width="0.18">50</text>
<text x="134.80" y="448.80" font-size="9.0" text-anchor="middle" fill="#111" font-weight="bold" textLength="20.1" lengthAdjust="spacingAndGlyphs">Months</text>
<text transform="translate(13.80,350.40) rotate(-90)" x="0" y="0" font-size="7.9" text-anchor="middle" fill="#1a1a1a" stroke="#1a1a1a" stroke-width="0.3" textLength="69.0" lengthAdjust="spacingAndGlyphs">Progression-free survival</text>
<line x1="168.10" y1="284.00" x2="175.80" y2="284.00" stroke="#c8345a" stroke-width="1.4"/>
<line x1="168.10" y1="295.00" x2="175.80" y2="295.00" stroke="#2a3550" stroke-width="1.4"/>
<text x="179.20" y="286.60" font-size="7.7" text-anchor="start" fill="#bb2c50" font-weight="normal" stroke="#bb2c50" stroke-width="0.08" textLength="66.4" lengthAdjust="spacingAndGlyphs">ALC<tspan font-size="4.6" dy="1.6">max</tspan><tspan dy="-1.6"> ≤ 1.0 ×10</tspan><tspan font-size="4.6" dy="-2.4">9</tspan><tspan dy="2.4">/uL</tspan></text>
<text x="179.20" y="297.50" font-size="7.7" text-anchor="start" fill="#2c4a70" font-weight="normal" stroke="#2c4a70" stroke-width="0.08" textLength="66.4" lengthAdjust="spacingAndGlyphs">ALC<tspan font-size="4.6">max</tspan> &gt; 1.0 ×10<tspan font-size="4.6" dy="-2.4">9</tspan><tspan dy="2.4">/uL</tspan></text>
<polyline points="49.70,284.20 53.40,284.20 54.40,284.20 54.40,286.00 55.40,286.00 55.40,287.80 61.10,287.80 61.90,287.80 61.90,289.40 62.55,289.40 62.55,291.85 63.20,291.85 63.20,294.30 64.30,294.30 64.30,297.50 66.00,297.50 66.70,297.50 66.70,299.95 67.40,299.95 67.40,302.40 79.00,302.40 79.80,302.40 79.80,305.60 83.00,305.60 83.00,307.30 83.60,307.30 83.60,310.50 90.30,310.50 90.75,310.50 90.75,312.55 91.20,312.55 91.20,314.60 92.80,314.60 92.80,316.20 92.80,320.20 131.60,320.20 131.60,324.30 132.70,324.30 132.70,326.95 133.80,326.95 133.80,329.60 139.50,329.60 139.50,334.30 152.40,334.30 152.40,339.80 162.50,339.80 162.50,344.80 192.40,344.80 192.40,350.30 229.00,350.30" fill="none" stroke="#274f7a" stroke-width="1.25" stroke-linejoin="miter"/>
<polyline points="50.80,284.20 51.22,284.20 51.22,286.15 51.65,286.15 51.65,288.10 52.08,288.10 52.08,290.05 52.50,290.05 52.50,292.00 52.93,292.00 52.93,294.37 53.37,294.37 53.37,296.73 53.80,296.73 53.80,299.10 54.14,299.10 54.14,301.20 54.49,301.20 54.49,303.30 54.83,303.30 54.83,305.40 55.17,305.40 55.17,307.50 55.51,307.50 55.51,309.60 55.86,309.60 55.86,311.70 56.20,311.70 56.20,313.80 56.52,313.80 56.52,316.08 56.84,316.08 56.84,318.36 57.16,318.36 57.16,320.64 57.48,320.64 57.48,322.92 57.80,322.92 57.80,325.20 58.10,325.20 58.10,327.48 58.40,327.48 58.40,329.77 58.70,329.77 58.70,332.05 59.00,332.05 59.00,334.33 59.30,334.33 59.30,336.62 59.60,336.62 59.60,338.90 67.40,338.90 67.54,338.90 67.54,341.22 67.68,341.22 67.68,343.55 67.81,343.55 67.81,345.88 67.95,345.88 67.95,348.20 68.09,348.20 68.09,350.52 68.22,350.52 68.22,352.85 68.36,352.85 68.36,355.18 68.50,355.18 68.50,357.50 69.50,357.50 69.50,359.60 69.73,359.60 69.73,361.73 69.97,361.73 69.97,363.87 70.20,363.87 70.20,366.00 109.10,366.00 109.10,391.30 152.70,391.30" fill="none" stroke="#bc2848" stroke-width="1.25" stroke-linejoin="miter"/>
<line x1="53.40" y1="282.60" x2="53.40" y2="285.80" stroke="#274f7a" stroke-width="0.8"/>
<line x1="59.00" y1="286.20" x2="59.00" y2="289.40" stroke="#274f7a" stroke-width="0.8"/>
<line x1="70.00" y1="300.80" x2="70.00" y2="304.00" stroke="#274f7a" stroke-width="0.8"/>
<line x1="72.50" y1="300.80" x2="72.50" y2="304.00" stroke="#274f7a" stroke-width="0.8"/>
<line x1="75.00" y1="300.80" x2="75.00" y2="304.00" stroke="#274f7a" stroke-width="0.8"/>
<line x1="77.00" y1="300.80" x2="77.00" y2="304.00" stroke="#274f7a" stroke-width="0.8"/>
<line x1="88.00" y1="308.90" x2="88.00" y2="312.10" stroke="#274f7a" stroke-width="0.8"/>
<line x1="165.50" y1="343.20" x2="165.50" y2="346.40" stroke="#274f7a" stroke-width="0.8"/>
<line x1="195.00" y1="348.70" x2="195.00" y2="351.90" stroke="#274f7a" stroke-width="0.8"/>
<line x1="205.00" y1="348.70" x2="205.00" y2="351.90" stroke="#274f7a" stroke-width="0.8"/>
<line x1="208.00" y1="348.70" x2="208.00" y2="351.90" stroke="#274f7a" stroke-width="0.8"/>
<line x1="211.00" y1="348.70" x2="211.00" y2="351.90" stroke="#274f7a" stroke-width="0.8"/>
<line x1="213.50" y1="348.70" x2="213.50" y2="351.90" stroke="#274f7a" stroke-width="0.8"/>
<line x1="63.00" y1="337.30" x2="63.00" y2="340.50" stroke="#bc2848" stroke-width="0.8"/>
<line x1="83.00" y1="364.40" x2="83.00" y2="367.60" stroke="#bc2848" stroke-width="0.8"/>
<line x1="86.00" y1="364.40" x2="86.00" y2="367.60" stroke="#bc2848" stroke-width="0.8"/>
<line x1="89.00" y1="364.40" x2="89.00" y2="367.60" stroke="#bc2848" stroke-width="0.8"/>
<line x1="152.70" y1="389.70" x2="152.70" y2="392.90" stroke="#bc2848" stroke-width="0.8"/>
<text x="69.60" y="408.20" font-size="7.9" fill="#333" stroke="#333" stroke-width="0.18" textLength="31.6" lengthAdjust="spacingAndGlyphs"><tspan font-style="italic">P</tspan> &lt; .0001</text>
<text x="40.80" y="460.60" font-size="7.7" text-anchor="start" fill="#333" font-weight="normal" stroke="#333" stroke-width="0.18" textLength="47.0" lengthAdjust="spacingAndGlyphs">Number at risk</text>
<line x1="28.50" y1="469.70" x2="40.10" y2="469.70" stroke="#b0607a" stroke-width="1.3"/>
<text x="49.40" y="472.40" font-size="7.9" text-anchor="middle" fill="#2a2a2a" font-weight="normal" stroke="#2a2a2a" stroke-width="0.18">24</text>
<text x="83.62" y="472.40" font-size="7.9" text-anchor="middle" fill="#2a2a2a" font-weight="normal" stroke="#2a2a2a" stroke-width="0.18">6</text>
<text x="117.84" y="472.40" font-size="7.9" text-anchor="middle" fill="#2a2a2a" font-weight="normal" stroke="#2a2a2a" stroke-width="0.18">1</text>
<text x="152.06" y="472.40" font-size="7.9" text-anchor="middle" fill="#2a2a2a" font-weight="normal" stroke="#2a2a2a" stroke-width="0.18">1</text>
<text x="186.28" y="472.40" font-size="7.9" text-anchor="middle" fill="#2a2a2a" font-weight="normal" stroke="#2a2a2a" stroke-width="0.18">0</text>
<text x="220.50" y="472.40" font-size="7.9" text-anchor="middle" fill="#2a2a2a" font-weight="normal" stroke="#2a2a2a" stroke-width="0.18">0</text>
<line x1="28.50" y1="481.20" x2="40.10" y2="481.20" stroke="#5070a0" stroke-width="1.3"/>
<text x="49.40" y="483.50" font-size="7.9" text-anchor="middle" fill="#2a2a2a" font-weight="normal" stroke="#2a2a2a" stroke-width="0.18">66</text>
<text x="83.62" y="483.50" font-size="7.9" text-anchor="middle" fill="#2a2a2a" font-weight="normal" stroke="#2a2a2a" stroke-width="0.18">27</text>
<text x="117.84" y="483.50" font-size="7.9" text-anchor="middle" fill="#2a2a2a" font-weight="normal" stroke="#2a2a2a" stroke-width="0.18">20</text>
<text x="152.06" y="483.50" font-size="7.9" text-anchor="middle" fill="#2a2a2a" font-weight="normal" stroke="#2a2a2a" stroke-width="0.18">16</text>
<text x="186.28" y="483.50" font-size="7.9" text-anchor="middle" fill="#2a2a2a" font-weight="normal" stroke="#2a2a2a" stroke-width="0.18">13</text>
<text x="220.50" y="483.50" font-size="7.9" text-anchor="middle" fill="#2a2a2a" font-weight="normal" stroke="#2a2a2a" stroke-width="0.18">1</text>
<text x="267.60" y="274.20" font-size="10" text-anchor="start" fill="#000" font-weight="bold" stroke="#000" stroke-width="0.18">E</text>
<line x1="301.50" y1="277.60" x2="301.50" y2="424.20" stroke="#303030" stroke-width="1.2"/>
<line x1="300.90" y1="423.60" x2="490.20" y2="423.60" stroke="#303030" stroke-width="1.2"/>
<line x1="298.90" y1="417.00" x2="301.50" y2="417.00" stroke="#303030" stroke-width="1.0"/>
<text x="295.70" y="419.65" font-size="7.8" text-anchor="end" fill="#333" font-weight="normal" stroke="#333" stroke-width="0.18">0.00</text>
<line x1="298.90" y1="383.82" x2="301.50" y2="383.82" stroke="#303030" stroke-width="1.0"/>
<text x="295.70" y="386.47" font-size="7.8" text-anchor="end" fill="#333" font-weight="normal" stroke="#333" stroke-width="0.18">0.25</text>
<line x1="298.90" y1="350.65" x2="301.50" y2="350.65" stroke="#303030" stroke-width="1.0"/>
<text x="295.70" y="353.30" font-size="7.8" text-anchor="end" fill="#333" font-weight="normal" stroke="#333" stroke-width="0.18">0.50</text>
<line x1="298.90" y1="317.48" x2="301.50" y2="317.48" stroke="#303030" stroke-width="1.0"/>
<text x="295.70" y="320.12" font-size="7.8" text-anchor="end" fill="#333" font-weight="normal" stroke="#333" stroke-width="0.18">0.75</text>
<line x1="298.90" y1="284.30" x2="301.50" y2="284.30" stroke="#303030" stroke-width="1.0"/>
<text x="295.70" y="286.95" font-size="7.8" text-anchor="end" fill="#333" font-weight="normal" stroke="#333" stroke-width="0.18">1.00</text>
<line x1="310.20" y1="423.60" x2="310.20" y2="426.80" stroke="#303030" stroke-width="1.0"/>
<text x="310.20" y="436.40" font-size="8.1" text-anchor="middle" fill="#333" font-weight="normal" stroke="#333" stroke-width="0.18">0</text>
<line x1="344.42" y1="423.60" x2="344.42" y2="426.80" stroke="#303030" stroke-width="1.0"/>
<text x="344.42" y="436.40" font-size="8.1" text-anchor="middle" fill="#333" font-weight="normal" stroke="#333" stroke-width="0.18">10</text>
<line x1="378.64" y1="423.60" x2="378.64" y2="426.80" stroke="#303030" stroke-width="1.0"/>
<text x="378.64" y="436.40" font-size="8.1" text-anchor="middle" fill="#333" font-weight="normal" stroke="#333" stroke-width="0.18">20</text>
<line x1="412.86" y1="423.60" x2="412.86" y2="426.80" stroke="#303030" stroke-width="1.0"/>
<text x="412.86" y="436.40" font-size="8.1" text-anchor="middle" fill="#333" font-weight="normal" stroke="#333" stroke-width="0.18">30</text>
<line x1="447.08" y1="423.60" x2="447.08" y2="426.80" stroke="#303030" stroke-width="1.0"/>
<text x="447.08" y="436.40" font-size="8.1" text-anchor="middle" fill="#333" font-weight="normal" stroke="#333" stroke-width="0.18">40</text>
<line x1="481.30" y1="423.60" x2="481.30" y2="426.80" stroke="#303030" stroke-width="1.0"/>
<text x="481.30" y="436.40" font-size="8.1" text-anchor="middle" fill="#333" font-weight="normal" stroke="#333" stroke-width="0.18">50</text>
<text x="395.70" y="448.80" font-size="9.0" text-anchor="middle" fill="#111" font-weight="bold" textLength="20.1" lengthAdjust="spacingAndGlyphs">Months</text>
<text transform="translate(274.60,350.40) rotate(-90)" x="0" y="0" font-size="7.9" text-anchor="middle" fill="#1a1a1a" stroke="#1a1a1a" stroke-width="0.3" textLength="69.0" lengthAdjust="spacingAndGlyphs">Progression-free survival</text>
<line x1="428.70" y1="284.40" x2="436.30" y2="284.40" stroke="#c8345a" stroke-width="1.4"/>
<line x1="428.70" y1="295.40" x2="436.30" y2="295.40" stroke="#2a3550" stroke-width="1.4"/>
<text x="439.80" y="287.00" font-size="7.7" text-anchor="start" fill="#bb2c50" font-weight="normal" stroke="#bb2c50" stroke-width="0.08" textLength="67.7" lengthAdjust="spacingAndGlyphs">ALC<tspan font-size="4.6" dy="1.6">max</tspan><tspan dy="-1.6"> ≤ 1.0 ×10</tspan><tspan font-size="4.6" dy="-2.4">9</tspan><tspan dy="2.4">/uL</tspan></text>
<text x="439.80" y="297.90" font-size="7.7" text-anchor="start" fill="#2c4a70" font-weight="normal" stroke="#2c4a70" stroke-width="0.08" textLength="67.7" lengthAdjust="spacingAndGlyphs">ALC<tspan font-size="4.6">max</tspan> &gt; 1.0 ×10<tspan font-size="4.6" dy="-2.4">9</tspan><tspan dy="2.4">/uL</tspan></text>
<polyline points="310.50,284.20 312.30,284.20 312.47,284.20 312.47,286.20 312.63,286.20 312.63,288.20 312.80,288.20 312.80,290.20 322.60,290.20 322.60,297.50 335.10,297.50 335.10,305.60 348.10,305.60 348.10,315.10 352.20,315.10 352.20,324.30 356.20,324.30 356.20,334.40 376.00,334.40 376.00,344.70 377.30,344.70 377.30,354.90 414.60,354.90 414.60,367.20 423.60,367.20 423.60,383.80 472.10,383.80" fill="none" stroke="#274f7a" stroke-width="1.25" stroke-linejoin="miter"/>
<polyline points="312.00,284.20 313.20,284.20 313.20,286.47 314.40,286.47 314.40,288.73 315.60,288.73 315.60,291.00 316.20,291.00 316.20,293.02 316.80,293.02 316.80,295.05 317.40,295.05 317.40,297.08 318.00,297.08 318.00,299.10 318.40,299.10 318.40,301.55 318.80,301.55 318.80,304.00 319.20,304.00 319.20,306.45 319.60,306.45 319.60,308.90 320.03,308.90 320.03,311.35 320.45,311.35 320.45,313.80 320.88,313.80 320.88,316.25 321.30,316.25 321.30,318.70 321.70,318.70 321.70,321.12 322.10,321.12 322.10,323.55 322.50,323.55 322.50,325.97 322.90,325.97 322.90,328.40 323.50,328.40 323.50,330.85 324.10,330.85 324.10,333.30 324.70,333.30 324.70,335.75 325.30,335.75 325.30,338.20 327.80,338.20 327.80,339.00 328.20,339.00 328.20,341.45 328.60,341.45 328.60,343.90 330.20,343.90 330.20,344.70 330.60,344.70 330.60,346.85 331.00,346.85 331.00,349.00 338.20,349.00 339.20,349.00 339.20,351.60 341.30,351.60 341.30,354.80 341.73,354.80 341.73,357.02 342.15,357.02 342.15,359.25 342.57,359.25 342.57,361.48 343.00,361.48 343.00,363.70 355.90,363.70 355.90,367.10 362.30,367.10 362.30,371.30 375.00,371.30 375.30,371.30 375.30,373.10 375.60,373.10 375.60,374.90 377.50,374.90 377.50,375.45 379.40,375.45 379.40,376.00 381.55,376.00 381.55,378.10 383.70,378.10 383.70,380.20 385.25,380.20 385.25,382.30 386.80,382.30 386.80,384.40 389.00,384.40 389.00,387.60 391.10,387.60 391.10,390.80 393.85,390.80 393.85,391.70 396.60,391.70 396.60,392.60 396.60,396.50 414.40,396.50 414.40,401.60 443.80,401.60 443.80,409.20" fill="none" stroke="#bc2848" stroke-width="1.25" stroke-linejoin="miter"/>
<line x1="320.00" y1="288.60" x2="320.00" y2="291.80" stroke="#274f7a" stroke-width="0.8"/>
<line x1="330.00" y1="295.90" x2="330.00" y2="299.10" stroke="#274f7a" stroke-width="0.8"/>
<line x1="342.00" y1="304.00" x2="342.00" y2="307.20" stroke="#274f7a" stroke-width="0.8"/>
<line x1="346.00" y1="304.00" x2="346.00" y2="307.20" stroke="#274f7a" stroke-width="0.8"/>
<line x1="354.00" y1="322.70" x2="354.00" y2="325.90" stroke="#274f7a" stroke-width="0.8"/>
<line x1="387.00" y1="353.30" x2="387.00" y2="356.50" stroke="#274f7a" stroke-width="0.8"/>
<line x1="416.50" y1="365.60" x2="416.50" y2="368.80" stroke="#274f7a" stroke-width="0.8"/>
<line x1="433.00" y1="382.20" x2="433.00" y2="385.40" stroke="#274f7a" stroke-width="0.8"/>
<line x1="472.10" y1="382.20" x2="472.10" y2="385.40" stroke="#274f7a" stroke-width="0.8"/>
<line x1="317.30" y1="295.14" x2="317.30" y2="298.34" stroke="#bc2848" stroke-width="0.8"/>
<line x1="319.70" y1="307.88" x2="319.70" y2="311.08" stroke="#bc2848" stroke-width="0.8"/>
<line x1="322.20" y1="322.56" x2="322.20" y2="325.76" stroke="#bc2848" stroke-width="0.8"/>
<line x1="337.00" y1="347.40" x2="337.00" y2="350.60" stroke="#bc2848" stroke-width="0.8"/>
<line x1="443.80" y1="400.00" x2="443.80" y2="403.20" stroke="#bc2848" stroke-width="0.8"/>
<line x1="443.80" y1="400.00" x2="443.80" y2="403.20" stroke="#bc2848" stroke-width="0.8"/>
<text x="331.50" y="408.40" font-size="7.9" fill="#333" stroke="#333" stroke-width="0.18" textLength="28.9" lengthAdjust="spacingAndGlyphs"><tspan font-style="italic">P</tspan> = .023</text>
<text x="301.90" y="460.60" font-size="7.7" text-anchor="start" fill="#333" font-weight="normal" stroke="#333" stroke-width="0.18" textLength="47.0" lengthAdjust="spacingAndGlyphs">Number at risk</text>
<line x1="289.20" y1="469.70" x2="300.80" y2="469.70" stroke="#b0607a" stroke-width="1.3"/>
<text x="310.20" y="472.40" font-size="7.9" text-anchor="middle" fill="#2a2a2a" font-weight="normal" stroke="#2a2a2a" stroke-width="0.18">46</text>
<text x="344.42" y="472.40" font-size="7.9" text-anchor="middle" fill="#2a2a2a" font-weight="normal" stroke="#2a2a2a" stroke-width="0.18">14</text>
<text x="378.64" y="472.40" font-size="7.9" text-anchor="middle" fill="#2a2a2a" font-weight="normal" stroke="#2a2a2a" stroke-width="0.18">8</text>
<text x="412.86" y="472.40" font-size="7.9" text-anchor="middle" fill="#2a2a2a" font-weight="normal" stroke="#2a2a2a" stroke-width="0.18">4</text>
<text x="447.08" y="472.40" font-size="7.9" text-anchor="middle" fill="#2a2a2a" font-weight="normal" stroke="#2a2a2a" stroke-width="0.18">0</text>
<text x="481.30" y="472.40" font-size="7.9" text-anchor="middle" fill="#2a2a2a" font-weight="normal" stroke="#2a2a2a" stroke-width="0.18">0</text>
<line x1="289.20" y1="481.20" x2="300.80" y2="481.20" stroke="#5070a0" stroke-width="1.3"/>
<text x="310.20" y="483.50" font-size="7.9" text-anchor="middle" fill="#2a2a2a" font-weight="normal" stroke="#2a2a2a" stroke-width="0.18">19</text>
<text x="344.42" y="483.50" font-size="7.9" text-anchor="middle" fill="#2a2a2a" font-weight="normal" stroke="#2a2a2a" stroke-width="0.18">12</text>
<text x="378.64" y="483.50" font-size="7.9" text-anchor="middle" fill="#2a2a2a" font-weight="normal" stroke="#2a2a2a" stroke-width="0.18">6</text>
<text x="412.86" y="483.50" font-size="7.9" text-anchor="middle" fill="#2a2a2a" font-weight="normal" stroke="#2a2a2a" stroke-width="0.18">5</text>
<text x="447.08" y="483.50" font-size="7.9" text-anchor="middle" fill="#2a2a2a" font-weight="normal" stroke="#2a2a2a" stroke-width="0.18">1</text>
<text x="481.30" y="483.50" font-size="7.9" text-anchor="middle" fill="#2a2a2a" font-weight="normal" stroke="#2a2a2a" stroke-width="0.18">0</text>
<rect x="0.65" y="0.65" width="518.7" height="490.7" fill="none" stroke="#585858" stroke-width="1.3"/>
</svg>
</body></html>
